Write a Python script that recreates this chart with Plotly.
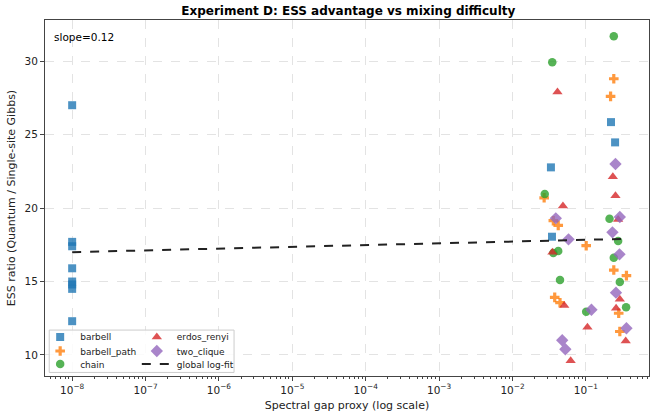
import plotly.graph_objects as go
import numpy as np

series_names = ["barbell", "barbell_path", "chain", "erdos_renyi", "two_clique"]

barbell_x = [1e-8]*8 + [0.0334, 0.0345, 0.22, 0.25]
barbell_y = [27.0, 17.7, 17.4, 15.9, 15.0, 14.8, 14.5, 12.3, 22.77, 18.05, 25.85, 24.47]

barbell_path_x = [0.24, 0.217, 0.027, 0.036, 0.042, 0.101, 0.24, 0.357, 0.0376, 0.0444, 0.28, 0.29]
barbell_path_y = [28.8, 27.6, 20.7, 19.14, 18.82, 17.44, 15.78, 15.4, 13.92, 13.56, 12.84, 11.6]

chain_x = [0.24, 0.0348, 0.0275, 0.21, 0.275, 0.042, 0.036, 0.24, 0.0444, 0.29, 0.353, 0.101]
chain_y = [31.7, 29.93, 20.95, 19.27, 17.76, 17.07, 16.94, 16.62, 15.1, 14.97, 13.25, 12.95]

erdos_renyi_x = [0.041, 0.233, 0.253, 0.0487, 0.275, 0.035, 0.0507, 0.29, 0.258, 0.105, 0.349, 0.062]
erdos_renyi_y = [27.9, 22.13, 20.84, 20.14, 19.23, 17.0, 13.36, 13.8, 13.18, 11.88, 10.95, 9.61]

two_clique_x = [0.253, 0.0389, 0.29, 0.23, 0.058, 0.287, 0.257, 0.119, 0.357, 0.0476, 0.0525]
two_clique_y = [23.0, 19.3, 19.39, 18.35, 17.87, 16.85, 14.24, 13.08, 11.82, 11.0, 10.39]

fit_slope = 0.12
fit_intercept = 17.96

x_tick_vals = [1e-8, 1e-7, 1e-6, 1e-5, 1e-4, 1e-3, 1e-2, 1e-1]
x_tick_text = ["10<sup>−8</sup>", "10<sup>−7</sup>", "10<sup>−6</sup>", "10<sup>−5</sup>",
               "10<sup>−4</sup>", "10<sup>−3</sup>", "10<sup>−2</sup>", "10<sup>−1</sup>"]
y_tick_vals = [10, 15, 20, 25, 30]

colors = {"barbell": "#1f77b4", "barbell_path": "#ff7f0e", "chain": "#2ca02c",
          "erdos_renyi": "#d62728", "two_clique": "#9467bd"}
symbols = {"barbell": "square", "barbell_path": "cross", "chain": "circle",
           "erdos_renyi": "triangle-up", "two_clique": "diamond"}
sizes = {"barbell": 8, "barbell_path": 8, "chain": 8.5, "erdos_renyi": 9, "two_clique": 9.5}

# legend slot for each entry: (column, row)
legend_slot = {"barbell": (0, 0), "barbell_path": (0, 1), "chain": (0, 2),
               "erdos_renyi": (1, 0), "two_clique": (1, 1), "global log-fit": (1, 2)}
legend_ids = {"barbell": "legend", "barbell_path": "legend2", "chain": "legend3",
              "erdos_renyi": "legend4", "two_clique": "legend5", "global log-fit": "legend6"}

data = {
    "barbell": (barbell_x, barbell_y),
    "barbell_path": (barbell_path_x, barbell_path_y),
    "chain": (chain_x, chain_y),
    "erdos_renyi": (erdos_renyi_x, erdos_renyi_y),
    "two_clique": (two_clique_x, two_clique_y),
}

fig = go.Figure()
for name in series_names:
    xs, ys = data[name]
    fig.add_trace(go.Scatter(
        x=xs, y=ys, mode="markers", name=name, legend=legend_ids[name],
        marker=dict(color=colors[name], symbol=symbols[name], size=sizes[name],
                    opacity=0.8, line=dict(width=0)),
    ))

all_x = np.concatenate([np.array(data[n][0]) for n in series_names])
fx = np.logspace(np.log10(all_x.min()), np.log10(all_x.max()), 50)
fy = fit_intercept + fit_slope * np.log10(fx)
fig.add_trace(go.Scatter(x=fx, y=fy, mode="lines", name="global log-fit",
                         legend=legend_ids["global log-fit"],
                         line=dict(color="#222222", width=2, dash="dash")))

fig.add_annotation(xref="x domain", yref="y domain", x=0.012, y=0.975,
                   xanchor="left", yanchor="top", showarrow=False,
                   text=f"slope={fit_slope:.2f}", font=dict(size=10.5, color="black"))

# legend frame
fig.add_shape(type="rect", xref="paper", yref="paper", x0=0.007, x1=0.313, y0=0.010, y1=0.129,
              line=dict(color="#cccccc", width=1), fillcolor="rgba(255,255,255,0.85)",
              layer="above")

col_x = [-0.008, 0.152]
row_y = [0.1096, 0.0702, 0.0337]
legends = {}
for nm, lid in legend_ids.items():
    c, r = legend_slot[nm]
    legends[lid] = dict(x=col_x[c], y=row_y[r], xanchor="left", yanchor="middle",
                        bgcolor="rgba(0,0,0,0)", borderwidth=0, font=dict(size=9),
                        tracegroupgap=0, itemwidth=30)

fig.update_layout(
    width=651, height=414,
    margin=dict(l=45, r=2, t=20, b=38),
    paper_bgcolor="white", plot_bgcolor="white",
    font=dict(family="DejaVu Sans", size=10.5, color="#222222"),
    title=dict(text="<b>Experiment D: ESS advantage vs mixing difficulty</b>",
               x=0.535, xanchor="center", y=0.985, yanchor="top",
               font=dict(size=12, color="black")),
    showlegend=True,
    **legends,
)
fig.update_xaxes(
    type="log", range=[-8.37, -0.14],
    tickvals=x_tick_vals, ticktext=x_tick_text,
    title=dict(text="Spectral gap proxy (log scale)", standoff=6, font=dict(size=11)),
    showline=True, linecolor="#444444", linewidth=1, mirror=True,
    ticks="outside", ticklen=4, tickcolor="#444444",
    showgrid=True, gridcolor="#e3e3e3", griddash="dash", gridwidth=1,
    minor=dict(ticks="outside", ticklen=2, tickcolor="#444444", dtick="D1", showgrid=False),
    zeroline=False, tickfont=dict(size=10.5),
)
fig.update_yaxes(
    range=[8.57, 32.8], tickvals=y_tick_vals,
    title=dict(text="ESS ratio (Quantum / Single-site Gibbs)", standoff=6, font=dict(size=11)),
    showline=True, linecolor="#444444", linewidth=1, mirror=True,
    ticks="outside", ticklen=4, tickcolor="#444444",
    showgrid=True, gridcolor="#e3e3e3", griddash="dash", gridwidth=1,
    zeroline=False, tickfont=dict(size=10.5),
)

fig.write_html("out.html")
